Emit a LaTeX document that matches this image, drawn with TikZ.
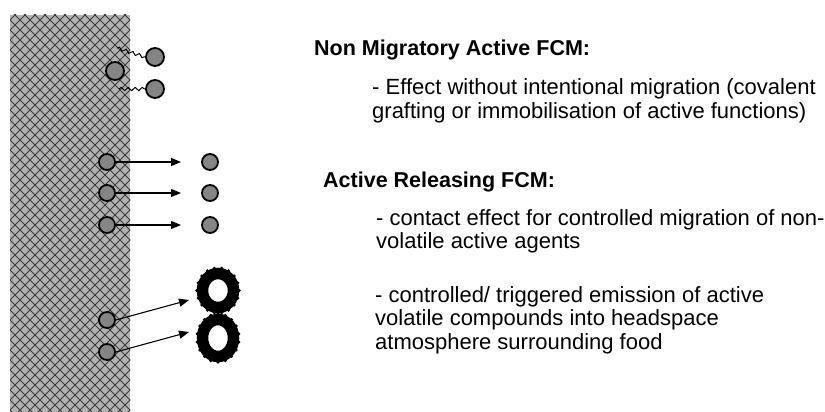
\documentclass[tikz,border=0pt]{standalone}
\usepackage{fontspec}
\setmainfont{Liberation Sans}
\usetikzlibrary{decorations.pathmorphing,arrows.meta}
\definecolor{wallgray}{HTML}{B2B2B2}
\definecolor{hatch}{HTML}{3C3C3C}
\definecolor{molgray}{HTML}{858585}
\begin{document}
\begin{tikzpicture}[x=1pt,y=-1pt,
  mol/.style={circle,draw=black,line width=1.8pt,fill=molgray,inner sep=0pt,minimum size=#1},
  mol/.default=16pt,
  flow/.style={draw=black,line width=1.1pt,-{Triangle[length=10pt,width=8pt]}},
  tether/.style={draw=black,line width=1pt,decorate,
    decoration={snake,segment length=7pt,amplitude=1.6pt}},
  heading/.style={anchor=base west,font=\bfseries\fontsize{21.5}{24}\selectfont,inner sep=0pt},
  body/.style={anchor=base west,font=\fontsize{22}{24}\selectfont,inner sep=0pt},
  blob/.style={draw=black,line width=11.5pt}]
\useasboundingbox (0,0) rectangle (825,412);

% packaging wall with cross hatching
\fill[wallgray] (10,15) rectangle (130,412);
\begin{scope}
  \clip (10,15) rectangle (130,412);
  \foreach \c in {-420,-410,...,140}
    \draw[hatch,line width=0.8pt] (\c,0) -- ++(430,430);
  \foreach \c in {0,10,...,570}
    \draw[hatch,line width=0.8pt] (\c,0) -- ++(-430,430);
\end{scope}

% non migratory: grafted actives
\node[mol=18pt] (g1) at (155,57) {};
\node[mol=18pt] (g0) at (115,71) {};
\node[mol=18pt] (g2) at (155,89) {};
\coordinate (t1) at (117,48);
\coordinate (t2) at (119,89);
\draw[tether] (t1) -- (g1.west);
\draw[tether] (t2) -- (g2.west);

% releasing: migrating actives
\foreach \i/\y in {1/162,2/193,3/225}{
  \node[mol] (s\i) at (107,\y) {};
  \node[mol] (r\i) at (210,\y) {};
  \coordinate (a\i) at (181,\y);
  \draw[flow] (s\i.east) -- (a\i);
}

% volatile emitters
\node[mol] (v1) at (107,320) {};
\node[mol] (v2) at (107,352) {};
\coordinate (b1) at (189,300);
\coordinate (b2) at (189,332);
\draw[flow] (v1.east) -- (b1);
\draw[flow] (v2.east) -- (b2);

% volatile cloud with a scalloped rim
\draw[blob] (218,290.5) ellipse (15.5pt and 17pt);
\draw[blob] (218,338) ellipse (15.5pt and 18.5pt);
\foreach \a in {0,20,...,359}{
  \fill ({218+21*cos(\a)},{290.5+22.5*sin(\a)}) circle (1.8pt);
  \fill ({218+21*cos(\a+10)},{338+24*sin(\a+10)}) circle (1.8pt);
}

% descriptions
\node[heading] (h1) at (314,56) {Non Migratory Active FCM:};
\node[body] (l1) at (372,95) {- Effect without intentional migration (covalent};
\node[body] (l2) at (372,118) {grafting or immobilisation of active functions)};
\node[heading] (h2) at (323,187) {Active Releasing FCM:};
\node[body] (l3) at (376,225) {- contact effect for controlled migration of non-};
\node[body] (l4) at (376,248) {volatile active agents};
\node[body] (l5) at (375,302) {- controlled/ triggered emission of active};
\node[body] (l6) at (375,325) {volatile compounds into headspace};
\node[body] (l7) at (375,349) {atmosphere surrounding food};
\end{tikzpicture}
\end{document}
